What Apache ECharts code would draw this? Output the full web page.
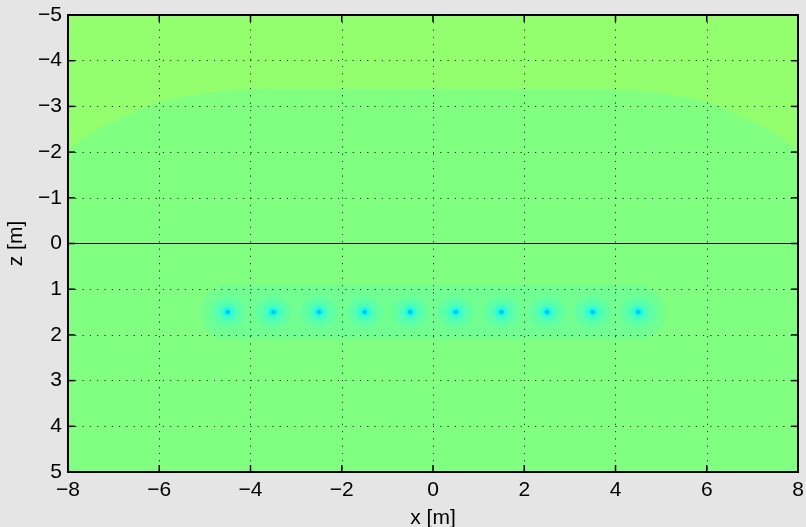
<!DOCTYPE html>
<html>
<head>
<meta charset="utf-8">
<style>
html,body{margin:0;padding:0;background:#e5e5e5;}
#chart{width:806px;height:527px;}
</style>
<script src="https://cdn.jsdelivr.net/npm/echarts@6/dist/echarts.min.js"></script>
</head>
<body>
<div id="chart"></div>
<script>
// ---- data ----
const X_MIN = -8, X_MAX = 8, Z_MIN = -5, Z_MAX = 5;
const X_TICKS = [-8,-6,-4,-2,0,2,4,6,8];
const X_TICK_LABELS = ['\u22128','\u22126','\u22124','\u22122','0','2','4','6','8'];
const Z_TICKS = [-5,-4,-3,-2,-1,0,1,2,3,4,5];
const Z_TICK_LABELS = ['\u22125','\u22124','\u22123','\u22122','\u22121','0','1','2','3','4','5'];
// boundary of the upper (yellow-green) contour region
const boundaryX = [-8,-7.5,-7,-6.5,-6,-5.5,-5,-4.5,-4,-3.5,-2,-1,0,1,2,3.5,4,4.5,5,5.5,6,6.5,7,7.5,8];
const boundaryZ = [-2.03,-2.42,-2.67,-2.90,-3.08,-3.20,-3.28,-3.34,-3.37,-3.39,-3.39,-3.39,-3.39,-3.39,-3.39,-3.39,-3.37,-3.34,-3.29,-3.21,-3.09,-2.90,-2.66,-2.40,-2.00];
// source positions
const sourceX = [-4.5,-3.5,-2.5,-1.5,-0.5,0.5,1.5,2.5,3.5,4.5];
const sourceZ = [1.5,1.5,1.5,1.5,1.5,1.5,1.5,1.5,1.5,1.5];

const C_BG = '#80ff80', C_TOP = '#94ff6e';
const C_B1 = '#70ff90', C_B2 = '#60ffa4', C_B3 = '#4cffba', C_B4 = '#1effdc', C_C = '#00c0ff';

const chart = echarts.init(document.getElementById('chart'));
const FONT = 'Liberation Sans';
const fmtX = v => X_TICK_LABELS[X_TICKS.indexOf(Math.round(v))];
const fmtZ = v => Z_TICK_LABELS[Z_TICKS.indexOf(Math.round(v))];
const dotted = () => ({show:true, lineStyle:{color:'#000', width:1, type:[1,6.3]}});
const TL = 7, TW = 1.5;

const boundary = boundaryX.map((x,i)=>[x, boundaryZ[i]]);
const sources = sourceX.map((x,i)=>[x, sourceZ[i]]);
const strip = [[sourceX[0], sourceZ[0]], [sourceX[sourceX.length-1], sourceZ[sourceZ.length-1]]];
const plotBottom = [[X_MIN, Z_MAX], [X_MAX, Z_MAX]];
const frame = [[X_MIN, Z_MIN],[X_MAX, Z_MIN],[X_MAX, Z_MAX],[X_MIN, Z_MAX],[X_MIN, Z_MIN]];

const tickSeries = (data, size, offset) => ({type:'scatter', data:data, symbol:'rect',
  symbolSize:size, symbolOffset:offset, clip:false, silent:true, z:10,
  itemStyle:{color:'#000', opacity:1}});

chart.setOption({
  animation:false,
  backgroundColor:'#e5e5e5',
  grid:{left:68, right:8, top:15, bottom:55, show:true, backgroundColor:'transparent',
        borderColor:'#000', borderWidth:2, containLabel:false, outerBoundsMode:'none'},
  xAxis:{type:'value', min:X_MIN, max:X_MAX, interval:2, position:'bottom',
     axisLine:{show:false}, axisTick:{show:false}, splitLine:dotted(),
     axisLabel:{formatter:fmtX, color:'#000', fontSize:21, fontFamily:FONT, margin:8},
     name:'x [m]', nameLocation:'middle', nameGap:36,
     nameTextStyle:{color:'#000', fontSize:21, fontFamily:FONT}},
  yAxis:{type:'value', min:Z_MIN, max:Z_MAX, interval:1, inverse:true, position:'left',
     axisLine:{show:false}, axisTick:{show:false}, splitLine:dotted(),
     axisLabel:{formatter:fmtZ, color:'#000', fontSize:21, fontFamily:FONT, margin:6},
     name:'z [m]', nameLocation:'middle', nameGap:40,
     nameTextStyle:{color:'#000', fontSize:21, fontFamily:FONT}},
  series:[
    {type:'line', data:plotBottom, symbol:'none', silent:true,
     lineStyle:{width:0}, areaStyle:{color:C_BG, opacity:1, origin:'start'}, z:-5},
    {type:'line', data:boundary, smooth:0.4, symbol:'none', silent:true,
     lineStyle:{width:0}, areaStyle:{color:C_TOP, opacity:1, origin:'start'}, z:-4},
    {type:'line', data:strip, symbol:'none', silent:true,
     lineStyle:{width:54, color:C_B1, cap:'round'}, z:-3},
    {type:'scatter', data:sources, symbol:'circle', symbolSize:[35,31], silent:true, z:-2,
     itemStyle:{opacity:1, color:{type:'radial', x:0.5, y:0.5, r:0.5, colorStops:[
       {offset:0, color:C_C},{offset:0.1, color:C_C},
       {offset:0.18, color:C_B4},{offset:0.31, color:C_B4},
       {offset:0.33, color:C_B3},{offset:0.58, color:C_B3},
       {offset:0.60, color:C_B2},{offset:1, color:C_B2}]}}},
    {type:'line', data:[[X_MIN,0],[X_MAX,0]], symbol:'none', silent:true,
     lineStyle:{width:1, color:'#000'}, z:-1},
    {type:'line', data:frame, symbol:'none', silent:true, clip:false,
     lineStyle:{width:2, color:'#000'}, z:10},
    tickSeries(X_TICKS.map(v=>[v, Z_MAX]), [TW, TL], [0, -TL/2]),
    tickSeries(X_TICKS.map(v=>[v, Z_MIN]), [TW, TL], [0, TL/2]),
    tickSeries(Z_TICKS.map(v=>[X_MIN, v]), [TL, TW], [TL/2, 0]),
    tickSeries(Z_TICKS.map(v=>[X_MAX, v]), [TL, TW], [-TL/2, 0])
  ]
});
</script>
</body>
</html>
